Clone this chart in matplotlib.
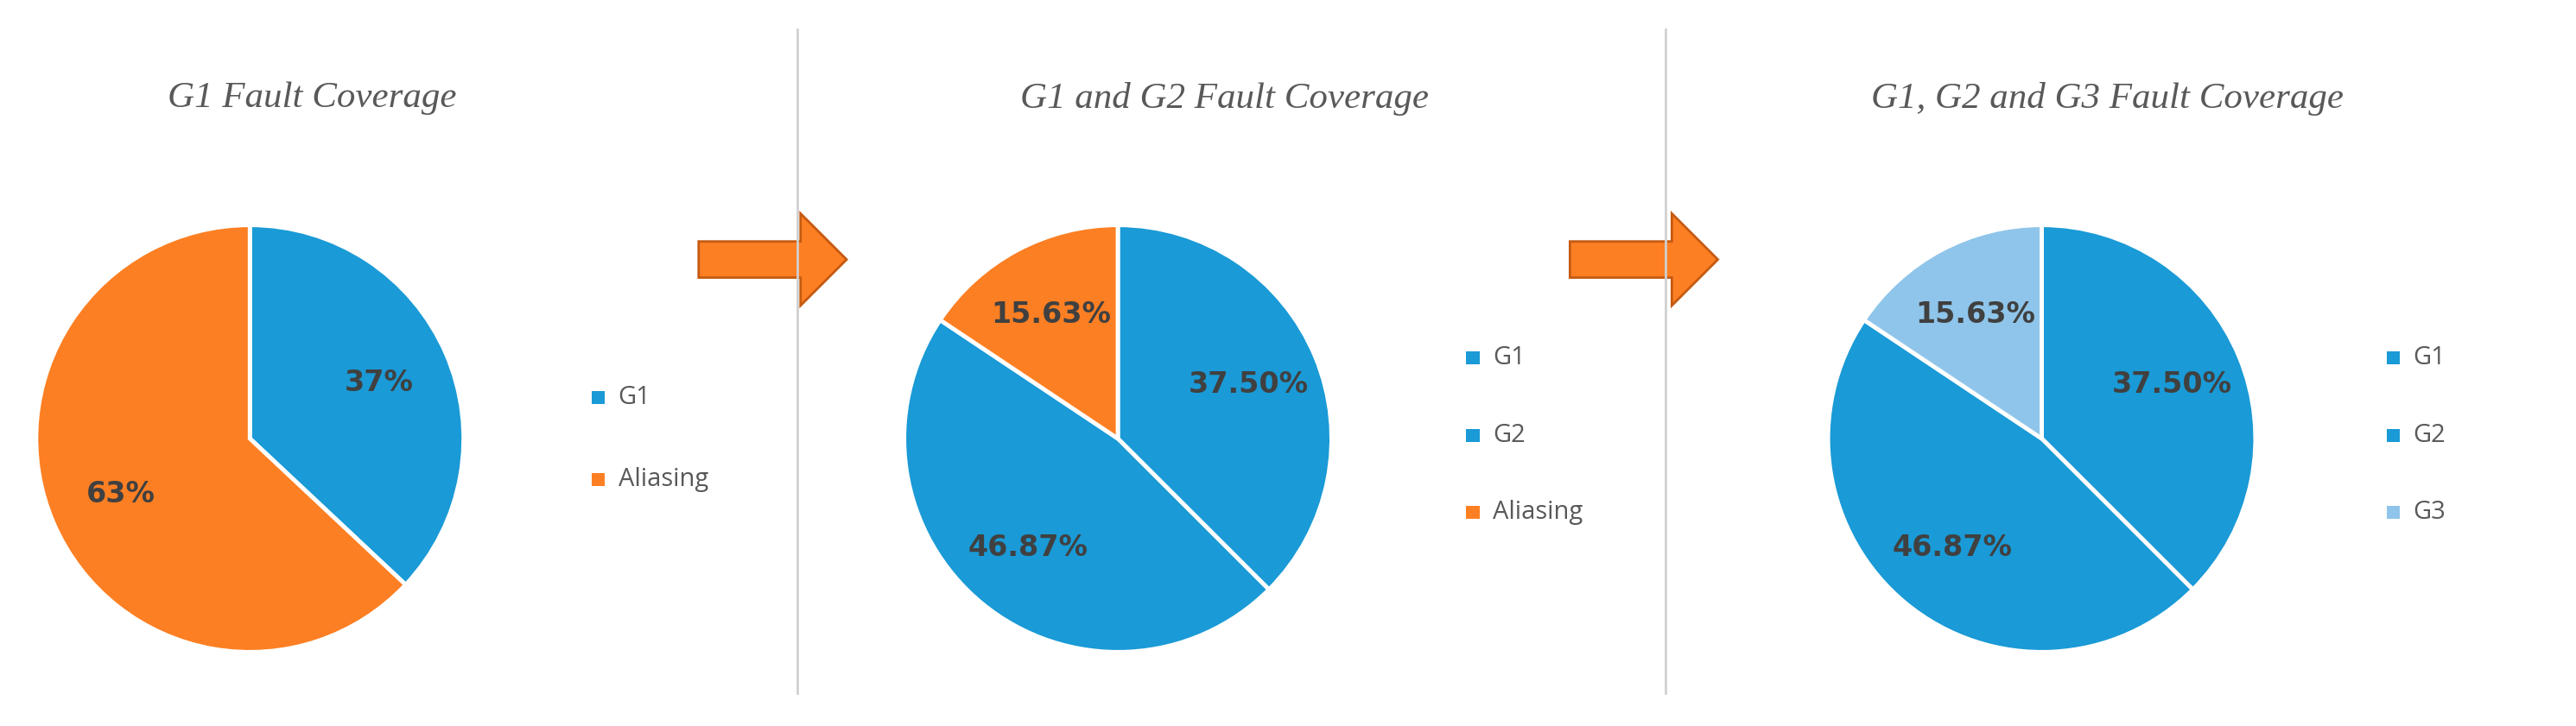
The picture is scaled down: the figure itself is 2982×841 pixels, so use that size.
import matplotlib
matplotlib.use("Agg")
import matplotlib.pyplot as plt
from matplotlib.patches import Polygon

BLUE = "#1a9ad6"
ORANGE = "#fd7f23"
LIGHT = "#8fc5ea"
GREY = "#404040"

titles = ["G1 Fault Coverage", "G1 and G2 Fault Coverage", "G1, G2 and G3 Fault Coverage"]
pie1_vals = [37, 63]
pie1_lbls = ["37%", "63%"]
pie1_legend = ["G1", "Aliasing"]
pie2_vals = [37.50, 46.87, 15.63]
pie2_lbls = ["37.50%", "46.87%", "15.63%"]
pie2_legend = ["G1", "G2", "Aliasing"]
pie3_vals = [37.50, 46.87, 15.63]
pie3_lbls = ["37.50%", "46.87%", "15.63%"]
pie3_legend = ["G1", "G2", "G3"]

W, H = 1567, 442  # layout units (reference scaled)
fig = plt.figure(figsize=(29.82, 8.41), dpi=100)
ov = fig.add_axes([0, 0, 1, 1])
ov.set_xlim(0, W)
ov.set_ylim(H, 0)
ov.axis("off")

def pie(cx, cy, r, vals, lbls, cols):
    ax = fig.add_axes([(cx - r) / W, (H - cy - r) / H, 2 * r / W, 2 * r / H])
    it = iter(lbls)
    ax.pie(vals, colors=cols, startangle=90, counterclock=False,
           wedgeprops=dict(edgecolor="white", linewidth=3.5),
           autopct=lambda p: next(it), pctdistance=0.66,
           textprops=dict(fontsize=24, fontweight="bold", color=GREY))
    ax.set_xlim(-1, 1)
    ax.set_ylim(-1, 1)
    ax.set_aspect("auto")

def legend(x, y0, names, cols, dy):
    for i, (n, c) in enumerate(zip(names, cols)):
        y = y0 + i * dy
        ov.add_patch(plt.Rectangle((x, y - 4), 8, 8, fc=c, ec="none"))
        ov.text(x + 16, y, n, fontsize=21, color="#595959", va="center",
                family="Open Sans")

def arrow(x0):
    pts = [(x0, 147), (x0 + 62, 147), (x0 + 62, 130), (x0 + 90, 158),
           (x0 + 62, 186), (x0 + 62, 169), (x0, 169)]
    ov.add_patch(Polygon(pts, closed=True, fc=ORANGE, ec="#c55a11", lw=2))

pie(152, 267, 130, pie1_vals, pie1_lbls, [BLUE, ORANGE])
pie(680, 267, 130, pie2_vals, pie2_lbls, [BLUE, BLUE, ORANGE])
pie(1242, 267, 130, pie3_vals, pie3_lbls, [BLUE, BLUE, LIGHT])

legend(360, 242, pie1_legend, [BLUE, ORANGE], 50)
legend(892, 218, pie2_legend, [BLUE, BLUE, ORANGE], 47)
legend(1452, 218, pie3_legend, [BLUE, BLUE, LIGHT], 47)

for x, t in zip([190, 745, 1282], titles):
    ov.text(x, 60, t, fontsize=31, style="italic", color="#595959",
            family="Liberation Serif", ha="center", va="center")

for x in [485, 1013]:
    ov.plot([x, x], [18, 422], color="#d0d0d0", lw=2)

arrow(425)
arrow(955)

fig.savefig("out.png", dpi=100, facecolor="white")
